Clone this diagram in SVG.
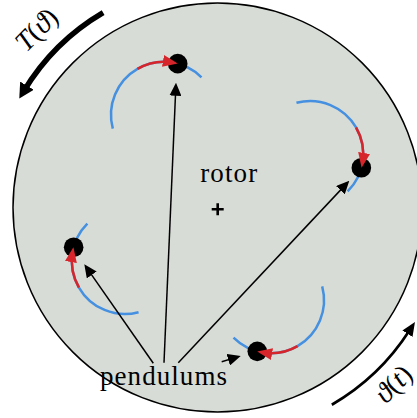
<svg xmlns="http://www.w3.org/2000/svg" width="417" height="418" viewBox="0 0 417 418">
<style>
.txt{font-family:"Liberation Serif","DejaVu Serif",serif;fill:#000}
.it{font-style:italic}
.blue{fill:none;stroke:#4590e0;stroke-width:2.5}
.red{fill:none;stroke:#d7262b;stroke-width:2.5;marker-end:url(#redHead)}
.dot{fill:#000}
.conn{fill:none;stroke:#000;stroke-width:1.5;marker-end:url(#blackHead)}
</style>
<defs>
<marker id="redHead" viewBox="0 0 15 12" refX="10" refY="6" markerWidth="15" markerHeight="12" markerUnits="userSpaceOnUse" orient="auto">
<path d="M0,0 L15,6 L0,12 z" fill="#d7262b"/>
</marker>
<marker id="blackHead" viewBox="0 0 13 12" refX="9" refY="6" markerWidth="13" markerHeight="12" markerUnits="userSpaceOnUse" orient="auto">
<path d="M0,0 L13,6 L0,12 z" fill="#000"/>
</marker>
<marker id="bigHead" viewBox="0 0 15 16" refX="6.3" refY="8" markerWidth="15" markerHeight="16" markerUnits="userSpaceOnUse" orient="auto">
<path d="M0,0 L15,8 L0,16 z" fill="#000"/>
</marker>
<marker id="medHead" viewBox="0 0 14 12" refX="4" refY="6" markerWidth="14" markerHeight="12" markerUnits="userSpaceOnUse" orient="auto">
<path d="M0,0 L14,6 L0,12 z" fill="#000"/>
</marker>
</defs>

<g id="rotor">
<circle cx="217.5" cy="207.5" r="204.5" fill="#d7dcd6" stroke="#000" stroke-width="1.5"/>
<text class="txt" x="228.7" y="181.7" font-size="27" text-anchor="middle" textLength="57" lengthAdjust="spacing">rotor</text>
<path d="M211.7,209.3 H223.7 M217.7,203.3 V215.3" stroke="#000" stroke-width="2.6" fill="none"/>
</g>

<g id="torque">
<path d="M103.14,12.57 A226,226 0 0 0 23.78,91.1" fill="none" stroke="#000" stroke-width="5.5" marker-end="url(#bigHead)"/>
<text class="txt" font-size="28" text-anchor="middle" transform="translate(38,31) rotate(-45.5)" y="7"><tspan class="it">T</tspan>(<tspan class="it">ϑ</tspan>)</text>
</g>

<g id="angle">
<path d="M331.84,404.77 A228,228 0 0 0 409.59,330.35" fill="none" stroke="#000" stroke-width="2.7" marker-end="url(#medHead)"/>
<text class="txt" font-size="28" text-anchor="middle" transform="translate(395,385.5) rotate(-45)" y="7"><tspan class="it">ϑ</tspan>(<tspan class="it">t</tspan>)</text>
</g>

<g id="pendulum1">
<path class="blue" d="M112.81,128.56 A53,53 0 0 1 201.48,77.36"/>
<circle class="dot" cx="177.72" cy="63.65" r="9.8"/>
<path class="red" d="M137.5,68.94 A53,53 0 0 1 172.84,62.58"/>
</g>

<g id="pendulum2">
<path class="blue" d="M296.44,102.81 A53,53 0 0 1 347.64,191.48"/>
<circle class="dot" cx="361.35" cy="167.72" r="9.8"/>
<path class="red" d="M356.06,127.5 A53,53 0 0 1 362.42,162.84"/>
</g>

<g id="pendulum3">
<path class="blue" d="M138.56,312.19 A53,53 0 0 1 87.36,223.52"/>
<circle class="dot" cx="73.65" cy="247.28" r="9.8"/>
<path class="red" d="M78.94,287.5 A53,53 0 0 1 72.58,252.16"/>
</g>

<g id="pendulum4">
<path class="blue" d="M322.19,286.44 A53,53 0 0 1 233.52,337.64"/>
<circle class="dot" cx="257.28" cy="351.35" r="9.8"/>
<path class="red" d="M297.5,346.06 A53,53 0 0 1 262.16,352.42"/>
</g>

<g id="pendulums-label">
<text class="txt" x="163.5" y="385" font-size="27" text-anchor="middle" textLength="127" lengthAdjust="spacing">pendulums</text>
</g>

<g id="connectors">
<path class="conn" d="M153.3,363.3 L86.59,267.58"/>
<path class="conn" d="M164,362.7 L175.83,86.7"/>
<path class="conn" d="M178.3,362.7 L346.56,183.62"/>
<path class="conn" d="M221.7,361.7 L236.87,357.15"/>
</g>
</svg>
